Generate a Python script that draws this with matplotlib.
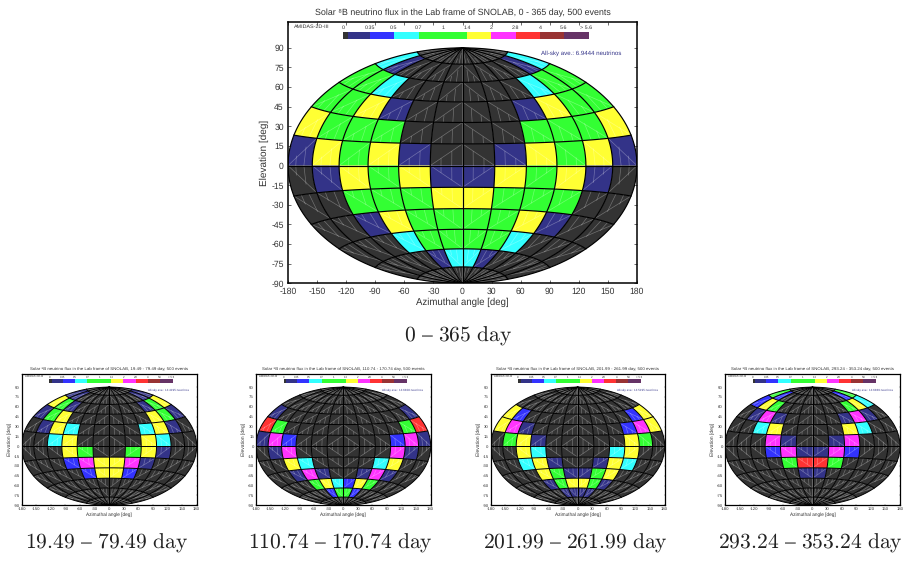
import numpy as np
import matplotlib
matplotlib.use("Agg")
import matplotlib.pyplot as plt
from matplotlib.collections import LineCollection

plt.rcParams['font.family'] = ['Liberation Sans', 'DejaVu Sans']
plt.rcParams['axes.unicode_minus'] = False
plt.rcParams['text.hinting'] = 'none'

# flux classes: index into class_colors, rows run from +90 down to -90 deg,
# columns from -180 to +180 deg
class_colors = ['#333333', '#333388', '#3333ff', '#33ffff', '#33ff33',
                '#ffff33', '#ff33ff', '#ff3333', '#993333', '#663366']
empty_row = [0] * 12

flux_all_year = [
    empty_row,
    [3, 1, 0, 0, 0, 0, 0, 0, 0, 0, 1, 3],
    [4, 4, 3, 0, 0, 0, 0, 0, 0, 3, 4, 4],
    [4, 4, 5, 1, 0, 0, 0, 0, 1, 5, 4, 4],
    [5, 4, 4, 4, 0, 0, 0, 0, 4, 4, 4, 5],
    [1, 5, 4, 5, 1, 0, 0, 1, 5, 4, 5, 1],
    [0, 1, 5, 4, 5, 1, 1, 5, 4, 5, 1, 0],
    [0, 0, 4, 4, 4, 5, 5, 4, 4, 4, 0, 0],
    [0, 0, 1, 5, 4, 4, 4, 4, 5, 1, 0, 0],
    [0, 0, 0, 3, 4, 4, 4, 4, 3, 0, 0, 0],
    [0, 0, 0, 0, 1, 3, 3, 1, 0, 0, 0, 0],
    empty_row,
]
flux_day_19 = [
    empty_row,
    [1, 1, 0, 0, 0, 0, 0, 0, 0, 0, 1, 1],
    [5, 4, 1, 0, 0, 0, 0, 0, 0, 1, 4, 5],
    [1, 4, 5, 0, 0, 0, 0, 0, 0, 5, 4, 1],
    [0, 1, 5, 3, 0, 0, 0, 0, 3, 5, 1, 0],
    [0, 0, 3, 5, 0, 0, 0, 0, 5, 3, 0, 0],
    [0, 0, 0, 5, 4, 0, 0, 4, 5, 1, 0, 0],
    [0, 0, 0, 2, 6, 5, 5, 6, 1, 0, 0, 0],
    [0, 0, 0, 0, 2, 5, 5, 2, 0, 0, 0, 0],
    empty_row,
    empty_row,
    empty_row,
]
flux_day_110 = [
    empty_row,
    empty_row,
    empty_row,
    [1, 0, 0, 0, 0, 0, 0, 0, 0, 0, 0, 1],
    [7, 4, 0, 0, 0, 0, 0, 0, 0, 0, 4, 7],
    [1, 6, 2, 0, 0, 0, 0, 0, 0, 2, 6, 1],
    [0, 1, 6, 0, 0, 0, 0, 0, 0, 6, 1, 0],
    [0, 0, 5, 3, 0, 0, 0, 0, 3, 5, 0, 0],
    [0, 0, 1, 6, 1, 0, 0, 1, 6, 1, 0, 0],
    [0, 0, 0, 4, 5, 3, 2, 5, 4, 0, 0, 0],
    [0, 0, 0, 0, 2, 4, 4, 2, 0, 0, 0, 0],
    empty_row,
]
flux_day_201 = [
    empty_row,
    empty_row,
    empty_row,
    [5, 2, 0, 0, 0, 0, 0, 0, 0, 0, 2, 5],
    [5, 6, 1, 0, 0, 0, 0, 0, 0, 2, 6, 5],
    [0, 4, 5, 1, 0, 0, 0, 0, 0, 5, 4, 0],
    [0, 0, 5, 3, 0, 0, 0, 0, 3, 5, 0, 0],
    [0, 0, 3, 5, 1, 0, 0, 1, 5, 3, 0, 0],
    [0, 0, 0, 5, 4, 1, 1, 4, 5, 0, 0, 0],
    [0, 0, 0, 1, 4, 5, 5, 4, 1, 0, 0, 0],
    [0, 0, 0, 0, 1, 1, 1, 1, 0, 0, 0, 0],
    empty_row,
]
flux_day_293 = [
    empty_row,
    [4, 2, 0, 0, 0, 0, 0, 0, 0, 0, 2, 4],
    [2, 5, 4, 0, 0, 0, 0, 0, 0, 4, 5, 3],
    [0, 1, 6, 1, 0, 0, 0, 0, 1, 6, 1, 0],
    [0, 0, 3, 5, 0, 0, 0, 0, 5, 3, 0, 0],
    [0, 0, 0, 6, 1, 0, 0, 1, 6, 0, 0, 0],
    [0, 0, 0, 2, 6, 1, 1, 6, 2, 0, 0, 0],
    [0, 0, 0, 0, 4, 7, 7, 4, 0, 0, 0, 0],
    [0, 0, 0, 0, 0, 1, 1, 0, 0, 0, 0, 0],
    empty_row,
    empty_row,
    empty_row,
]

day_ranges = ['0 - 365', '19.49 - 79.49', '110.74 - 170.74', '201.99 - 261.99', '293.24 - 353.24']
sky_averages = ['6.9444', '13.4195', '13.6808', '13.5195', '13.6889']

legend_labels = ['0', '0.35', '0.5', '0.7', '1', '1.4', '2', '2.8', '4', '5.6', '> 5.6']
legend_label_pos = [249, 330, 402, 477, 549, 621, 693, 767, 840, 912, 978]
legend_edges = [249, 264, 330, 402, 477, 621, 693, 767, 840, 911, 987]
legend_colors = [0, 1, 2, 3, 4, 5, 6, 7, 8, 9]

lon_edges = np.arange(-180, 181, 30)
lat_edges = np.arange(90, -91, -15)
x_ticks = np.arange(-180, 181, 30)
y_ticks = np.arange(-90, 91, 15)

W, H = 910, 562


def hammer(lon, lat):
    lam = np.radians(lon)
    phi = np.radians(lat)
    d = np.sqrt(1 + np.cos(phi) * np.cos(lam / 2))
    return 180 * np.cos(phi) * np.sin(lam / 2) / d, 90 * np.sin(phi) / d


def cell_outline(lon0, lon1, lat0, lat1):
    lons = np.linspace(lon0, lon1, 12)
    lats = np.linspace(lat0, lat1, 8)
    lon = np.concatenate([lons, np.full(8, lon1), lons[::-1], np.full(8, lon0)])
    lat = np.concatenate([np.full(12, lat0), lats, np.full(12, lat1), lats[::-1]])
    return hammer(lon, lat)


def cell_seams(lon0, lon1, lat0, lat1):
    # thin light traces left between the polygon strips of each cell
    inner, outer = (lon0, lon1) if abs(lon0) < abs(lon1) else (lon1, lon0)
    far, near = (lat0, lat1) if abs(lat0) > abs(lat1) else (lat1, lat0)
    segs = [[hammer(inner, far), hammer(outer, near)]]
    for f in (1 / 3, 2 / 3):
        lon = inner + f * (outer - inner)
        segs.append([hammer(lon, far + f * (near - far)), hammer(lon, near)])
    return segs


def draw_sky(box, grid, days, average, s):
    left, right, top, bottom = box
    ax = plt.gcf().add_axes([left / W, 1 - bottom / H, (right - left) / W, (bottom - top) / H])

    seams = []
    for i in range(12):
        for j in range(12):
            x, y = cell_outline(lon_edges[j], lon_edges[j + 1], lat_edges[i + 1], lat_edges[i])
            ax.fill(x, y, color=class_colors[grid[i][j]], lw=0, zorder=1)
            seams += cell_seams(lon_edges[j], lon_edges[j + 1], lat_edges[i + 1], lat_edges[i])
    ax.add_collection(LineCollection(seams, colors='white', alpha=0.3, linewidths=0.5, zorder=2))

    lw = 0.85 if s == 1 else 0.7
    line_lat = np.linspace(-90, 90, 91)
    line_lon = np.linspace(-180, 180, 121)
    for lon in lon_edges:
        ax.plot(*hammer(lon, line_lat), color='black', lw=lw, zorder=3)
    for lat in lat_edges[1:-1]:
        ax.plot(*hammer(line_lon, lat), color='black', lw=lw, zorder=3)

    ax.set_xlim(-180, 180)
    ax.set_ylim(-90, 110)
    ax.set_xticks(x_ticks)
    ax.set_yticks(y_ticks)
    ax.tick_params(direction='in', top=True, right=True, length=2 * s, width=0.5 * s,
                   labelsize=6.2 * s, pad=3 * s, colors='#333333')
    for spine in ax.spines.values():
        spine.set_linewidth(1.1 if s == 1 else 0.9)
    ax.set_xlabel('Azimuthal angle [deg]', fontsize=6.9 * s, labelpad=1.5 * s, color='#333333')
    ax.set_ylabel('Elevation [deg]', fontsize=7.2 * s, labelpad=2.0 * s, color='#333333')
    ax.set_title('Solar ⁸B neutrino flux in the Lab frame of SNOLAB, %s day, 500 events' % days,
                 fontsize=6.4 * s, pad=5 * s, color='#333333')

    # colour key along the top of the frame
    k0 = 0.1576
    kw = (0.8625 - 0.1576) / (legend_edges[-1] - legend_edges[0])
    to_frac = lambda p: k0 + (p - legend_edges[0]) * kw
    for c, e0, e1 in zip(legend_colors, legend_edges[:-1], legend_edges[1:]):
        ax.fill_between([to_frac(e0), to_frac(e1)], 0.9338, 0.9606, color=class_colors[c], lw=0,
                        transform=ax.transAxes, zorder=4)
    for label, p in zip(legend_labels, legend_label_pos):
        ax.text(to_frac(p), 0.976, label, transform=ax.transAxes, fontsize=3.9 * s,
                ha='center', va='center', color='#333333')
    ax.text(0.0175, 0.98, 'AMIDAS-2D-III', transform=ax.transAxes, fontsize=3.9 * s,
            ha='left', va='center', color='#333333')
    ax.text(0.7235, 0.881, 'All-sky ave.: %s neutrinos' % average, transform=ax.transAxes,
            fontsize=4.4 * s, ha='left', va='center', color='#333388')


fig = plt.figure(figsize=(W / 100, H / 100), dpi=100, facecolor='white')

draw_sky((288, 637, 21.7, 283.3), flux_all_year, day_ranges[0], sky_averages[0], 1)
draw_sky((21.7, 196.7, 374, 505.3), flux_day_19, day_ranges[1], sky_averages[1], 0.5)
draw_sky((256, 430.7, 374, 505.3), flux_day_110, day_ranges[2], sky_averages[2], 0.5)
draw_sky((490.7, 664.7, 374, 505.3), flux_day_201, day_ranges[3], sky_averages[3], 0.5)
draw_sky((725, 900, 374, 505.3), flux_day_293, day_ranges[4], sky_averages[4], 0.5)

caption_x = [458, 106.5, 340.5, 575.5, 810]
caption_y = [336, 543, 543, 543, 543]
for days, cx, cy in zip(day_ranges, caption_x, caption_y):
    a, b = days.split(' - ')
    fig.text(cx / W, 1 - cy / H, r'$\mathrm{%s\ –\ %s\ day}$' % (a, b), fontsize=15.5,
             ha='center', va='center', color='#222222', math_fontfamily='cm')

fig.savefig('out.png', dpi=100)
